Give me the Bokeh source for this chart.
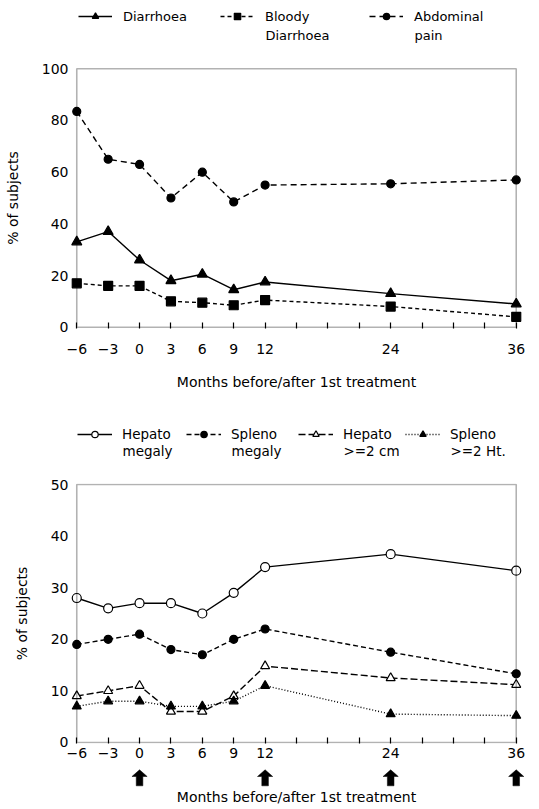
from bokeh.plotting import figure
from bokeh.layouts import column
from bokeh.models import Legend, LegendItem, FixedTicker, Range1d, BoxAnnotation, Label
from bokeh.embed import file_html
from bokeh.resources import INLINE

# ---------------- data ----------------
months = [-6, -3, 0, 3, 6, 9, 12, 24, 36]
x_labeled_ticks = [-6, -3, 0, 3, 6, 9, 12, 24, 36]
x_tick_labels = ["−6", "−3", "0", "3", "6", "9", "12", "24", "36"]
x_minor_ticks = [15, 18, 21, 27, 30, 33]
x_title = "Months before/after 1st treatment"
y_title = "% of subjects"

diarrhoea = [33, 37, 26, 18, 20.5, 14.5, 17.5, 13, 9]
bloody_diarrhoea = [17, 16, 16, 10, 9.5, 8.5, 10.5, 8, 4]
abdominal_pain = [83.5, 65, 63, 50, 60, 48.5, 55, 55.5, 57]
top_y_ticks = [0, 20, 40, 60, 80, 100]
top_labels = [["Diarrhoea"], ["Bloody", "Diarrhoea"], ["Abdominal", "pain"]]

hepatomegaly = [28, 26, 27, 27, 25, 29, 34, 36.5, 33.3]
splenomegaly = [19, 20, 21, 18, 17, 20, 22, 17.5, 13.3]
hepato_ge2cm = [9, 10, 11, 6, 6, 9, 14.8, 12.5, 11.2]
spleno_ge2ht = [7, 8, 8, 7, 7, 8, 11, 5.5, 5.2]
bottom_y_ticks = [0, 10, 20, 30, 40, 50]
bottom_labels = [["Hepato", "megaly"], ["Spleno", "megaly"], ["Hepato", ">=2 cm"], ["Spleno", ">=2 Ht."]]

treatment_months = [0, 12, 24, 36]

# ---------------- style / layout ----------------
FONT = "DejaVu Sans"
X_MIN, X_MAX = -6, 36
X_PAD = 0.79
W = 539
BL, BR = 68, 15                      # left / right borders shared by every figure
FRAME_W = W - BL - BR
PX_PER_MONTH = FRAME_W / (X_MAX - X_MIN + 2 * X_PAD)
NAN = float("nan")

TOP_STYLES = [("solid", "triangle", 10, "black"),
              ("4 3", "square", 9, "black"),
              ("6 4", "circle", 8, "black")]
BOTTOM_STYLES = [("solid", "circle", 9, "white"),
                 ("5 3", "circle", 8, "black"),
                 ("7 3", "triangle", 9, "white"),
                 ("1 2", "triangle", 9, "black")]

# legend item glyph left edges (page pixels) and text rows (pixels from top of legend strip)
TOP_LEG_X = [78, 220, 369]
TOP_LEG_ROWS = (16, 35)
BOT_LEG_X = [77, 186, 298, 405]
BOT_LEG_ROWS = (33.5, 50.5)


def new_fig(height, x_range, y_range, top, bottom):
    p = figure(width=W, height=height, x_range=x_range, y_range=y_range,
               output_backend="svg", toolbar_location=None,
               min_border_left=BL, min_border_right=BR,
               min_border_top=top, min_border_bottom=bottom)
    p.outline_line_color = None
    p.background_fill_color = "white"
    p.border_fill_color = "white"
    p.xgrid.visible = False
    p.ygrid.visible = False
    return p


def chart_fig(height, y_min, y_max, y_pad, top, bottom):
    p = new_fig(height, Range1d(X_MIN - X_PAD, X_MAX + X_PAD),
                Range1d(y_min - y_pad, y_max + y_pad), top, bottom)
    p.add_layout(BoxAnnotation(left=X_MIN, right=X_MAX, bottom=y_min, top=y_max,
                               fill_color=None, line_color="black", line_width=1.6))
    return p


def style_axes(p, y_ticks, x_label_standoff, y_title_standoff, show_x_title, x_title_standoff=0):
    xa = p.xaxis[0]
    xa.ticker = FixedTicker(ticks=x_labeled_ticks, minor_ticks=x_minor_ticks)
    xa.major_label_overrides = dict(zip(x_labeled_ticks, x_tick_labels))
    xa.axis_line_color = None
    xa.major_tick_in = 6
    xa.major_tick_out = 0
    xa.minor_tick_in = 6
    xa.minor_tick_out = 0
    xa.major_tick_line_width = 1.2
    xa.minor_tick_line_width = 1.2
    xa.major_tick_line_color = "black"
    xa.minor_tick_line_color = "black"
    xa.major_label_standoff = x_label_standoff
    xa.major_label_text_font = FONT
    xa.major_label_text_font_size = "14px"
    xa.major_label_text_color = "black"
    if show_x_title:
        xa.axis_label = x_title
        xa.axis_label_standoff = x_title_standoff
        xa.axis_label_text_font = FONT
        xa.axis_label_text_font_size = "14px"
        xa.axis_label_text_font_style = "normal"
        xa.axis_label_text_color = "black"

    ya = p.yaxis[0]
    ya.ticker = FixedTicker(ticks=y_ticks)
    ya.axis_line_color = None
    ya.major_tick_in = 0
    ya.major_tick_out = 0
    ya.minor_tick_in = 0
    ya.minor_tick_out = 0
    ya.major_label_standoff = 0
    ya.major_label_text_font = FONT
    ya.major_label_text_font_size = "14px"
    ya.major_label_text_color = "black"
    ya.axis_label = y_title
    ya.axis_label_standoff = y_title_standoff
    ya.axis_label_text_font = FONT
    ya.axis_label_text_font_size = "14px"
    ya.axis_label_text_font_style = "normal"
    ya.axis_label_text_color = "black"


def series(p, x, y, style, lw=1.4):
    dash, marker, size, fill = style
    ln = p.line(x, y, line_color="black", line_width=lw, line_dash=dash)
    sc = p.scatter(x, y, marker=marker, size=size, line_color="black",
                   fill_color=fill, line_width=1.2)
    return [ln, sc]


def legend_fig(height, styles, labels, xs, rows, font_size, glyph_w, standoff):
    lf = new_fig(height, Range1d(0, FRAME_W), Range1d(0, height), 0, 0)
    lf.axis.visible = False
    for st, lab, gx in zip(styles, labels, xs):
        # legend sample renderers (no visible data of their own)
        rs = series(lf, [NAN], [NAN], st)
        loc_x = gx - BL
        leg = Legend(items=[LegendItem(label=lab[0], renderers=rs)],
                     location=(loc_x, height - rows[0] - 8),
                     orientation="horizontal", padding=0, margin=0,
                     glyph_width=glyph_w, glyph_height=16, label_height=16,
                     label_standoff=standoff, label_text_font=FONT,
                     label_text_font_size=font_size, label_text_color="black",
                     border_line_color=None, background_fill_alpha=0)
        lf.add_layout(leg)
        for k, extra in enumerate(lab[1:], start=1):
            lf.add_layout(Label(x=loc_x + glyph_w + standoff, y=height - rows[k], text=extra,
                                text_font=FONT, text_font_size=font_size,
                                text_color="black", text_baseline="middle", text_align="left"))
    return lf


# ---------------- top legend + chart ----------------
L1 = legend_fig(50, TOP_STYLES, top_labels, TOP_LEG_X, TOP_LEG_ROWS, "13px", 34, 11)

p1 = chart_fig(350, 0, 100, 0.5, top=17, bottom=72)
style_axes(p1, top_y_ticks, x_label_standoff=15, y_title_standoff=18,
           show_x_title=True, x_title_standoff=17)
for yv, st in zip([diarrhoea, bloody_diarrhoea, abdominal_pain], TOP_STYLES):
    series(p1, months, yv, st)

# ---------------- bottom legend + chart ----------------
L2 = legend_fig(66, BOTTOM_STYLES, bottom_labels, BOT_LEG_X, BOT_LEG_ROWS, "13.5px", 35, 10)

p2 = chart_fig(298, 0, 50, 0.2, top=17, bottom=21)
style_axes(p2, bottom_y_ticks, x_label_standoff=4, y_title_standoff=18, show_x_title=False)
for yv, st in zip([hepatomegaly, splenomegaly, hepato_ge2cm, spleno_ge2ht], BOTTOM_STYLES):
    series(p2, months, yv, st)

# ---------------- treatment arrows + axis title ----------------
p3 = new_fig(45, p2.x_range, Range1d(0, 24), 0, 21)
p3.yaxis.visible = False
xa3 = p3.xaxis[0]
xa3.ticker = FixedTicker(ticks=[])
xa3.axis_line_color = None
xa3.major_tick_in = 0
xa3.major_tick_out = 0
xa3.minor_tick_in = 0
xa3.minor_tick_out = 0
xa3.major_label_text_font_size = "0px"
xa3.axis_label = x_title
xa3.axis_label_standoff = 0
xa3.axis_label_text_font = FONT
xa3.axis_label_text_font_size = "14px"
xa3.axis_label_text_font_style = "normal"
xa3.axis_label_text_color = "black"

HEAD_HALF = 7.6 / PX_PER_MONTH
STEM_HALF = 3.3 / PX_PER_MONTH
arrow_xs = [[m - STEM_HALF, m - STEM_HALF, m - HEAD_HALF, m, m + HEAD_HALF, m + STEM_HALF, m + STEM_HALF]
            for m in treatment_months]
arrow_ys = [[2.7, 12, 12, 18.7, 12, 12, 2.7] for m in treatment_months]
p3.patches(arrow_xs, arrow_ys, fill_color="black", line_color="black", line_width=0.5)

layout = column(L1, p1, L2, p2, p3, spacing=0)
open("out.html", "w").write(file_html(layout, INLINE))
